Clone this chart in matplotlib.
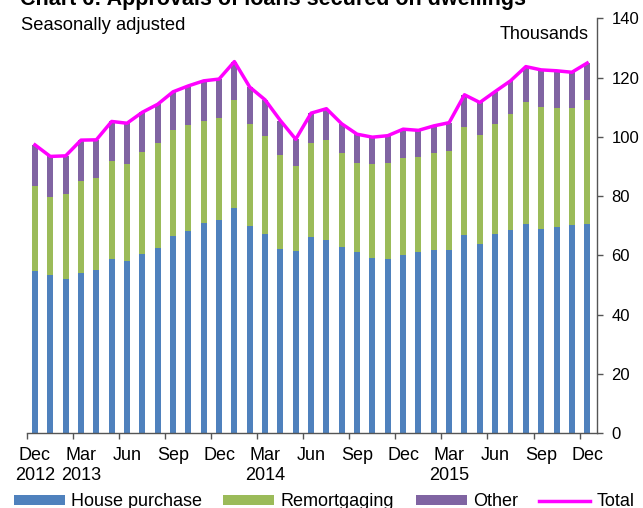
import matplotlib
matplotlib.use("Agg")
import matplotlib.pyplot as plt
import numpy as np

plt.rcParams['font.family'] = ['Liberation Sans', 'DejaVu Sans']

# Monthly data, Dec 2012 .. Dec 2015 (thousands, seasonally adjusted)
house_purchase = [54.9, 53.5, 52.2, 54.2, 55.1, 58.7, 58.0, 60.6, 62.6, 66.7,
                  68.4, 71.1, 71.9, 76.1, 70.1, 67.4, 62.3, 61.6, 66.1, 65.2,
                  63.0, 61.3, 59.3, 58.9, 60.2, 61.1, 62.0, 62.0, 67.0, 64.0,
                  67.2, 68.7, 70.7, 68.9, 69.7, 70.3, 70.7]
remortgaging = [28.5, 26.2, 28.4, 31.0, 31.1, 33.2, 32.9, 34.4, 35.4, 35.7,
                35.6, 34.4, 34.5, 36.3, 34.1, 32.9, 31.5, 28.6, 31.8, 33.8,
                31.7, 29.9, 31.5, 32.4, 32.8, 32.0, 32.6, 33.2, 36.4, 36.6,
                37.3, 39.1, 41.1, 41.3, 40.1, 39.5, 41.8]
other = [13.9, 13.7, 13.0, 13.7, 12.8, 13.3, 13.7, 13.3, 13.0, 12.8,
         13.2, 13.4, 13.1, 13.0, 12.6, 12.2, 11.7, 9.0, 10.1, 10.5,
         9.7, 9.7, 9.1, 9.1, 9.6, 9.1, 9.1, 9.6, 10.8, 11.0,
         10.8, 11.1, 11.9, 12.4, 12.5, 12.0, 12.4]
tick_labels = ['Dec\n2012', 'Mar\n2013', 'Jun', 'Sep', 'Dec', 'Mar\n2014', 'Jun',
               'Sep', 'Dec', 'Mar\n2015', 'Jun', 'Sep', 'Dec']
y_ticks = [0, 20, 40, 60, 80, 100, 120, 140]

hp = np.array(house_purchase)
rm = np.array(remortgaging)
ot = np.array(other)
total = hp + rm + ot
x = np.arange(len(hp))

W, H = 643, 508
fig = plt.figure(figsize=(W / 100, H / 100), dpi=100)
left_px, right_px, top_px, bot_px = 27.3, 596.7, 18.3, 433.3
ax = fig.add_axes([left_px / W, 1 - bot_px / H, (right_px - left_px) / W, (bot_px - top_px) / H])

c_blue, c_green, c_purple, c_mag = '#4F81BD', '#9BBB59', '#8064A2', '#FF00FF'
bw = 0.39
b1 = ax.bar(x, hp, width=bw, color=c_blue, label='House purchase', zorder=2)
b2 = ax.bar(x, rm, width=bw, bottom=hp, color=c_green, label='Remortgaging', zorder=2)
b3 = ax.bar(x, ot, width=bw, bottom=hp + rm, color=c_purple, label='Other', zorder=2)
l1, = ax.plot(x, total, color=c_mag, lw=2.5, label='Total', zorder=3, solid_joinstyle='round')

ax.set_xlim(-0.5, 36.62)
ax.set_ylim(0, 140)

spine_c = '#555555'
for s in ['top', 'left']:
    ax.spines[s].set_visible(False)
for s in ['right', 'bottom']:
    ax.spines[s].set_color(spine_c)
    ax.spines[s].set_linewidth(1.0)

ax.yaxis.tick_right()
ax.set_yticks(y_ticks)
ax.tick_params(axis='y', direction='out', length=4, width=1, color=spine_c,
               labelsize=12, pad=6.5, labelcolor='black')

ax.set_xticks(x[::3])
ax.set_xticklabels(tick_labels)
ax.set_xticks(x[::3] - 0.5, minor=True)
ax.tick_params(axis='x', which='major', length=0, pad=10, labelsize=13)
ax.tick_params(axis='x', which='minor', direction='out', length=4, width=1, color=spine_c)

fig.text(20 / W, 1 - 5 / H, 'Chart 6: Approvals of loans secured on dwellings',
         fontsize=15.5, fontweight='bold', ha='left', va='baseline')
fig.text(20.5 / W, 1 - 29.5 / H, 'Seasonally adjusted', fontsize=13.2, ha='left', va='baseline')
fig.text(589 / W, 1 - 39 / H, 'Thousands', fontsize=13, ha='right', va='baseline')

fig.legend([b1, b2, b3, l1], ['House purchase', 'Remortgaging', 'Other', 'Total'],
           loc='center', bbox_to_anchor=(324 / W, 1 - 502 / H), ncol=4, frameon=False,
           fontsize=13, handlelength=2.83, handleheight=0.48, handletextpad=0.33,
           columnspacing=1.2, borderpad=0, borderaxespad=0)

fig.savefig('out.png', dpi=100, facecolor='white')
